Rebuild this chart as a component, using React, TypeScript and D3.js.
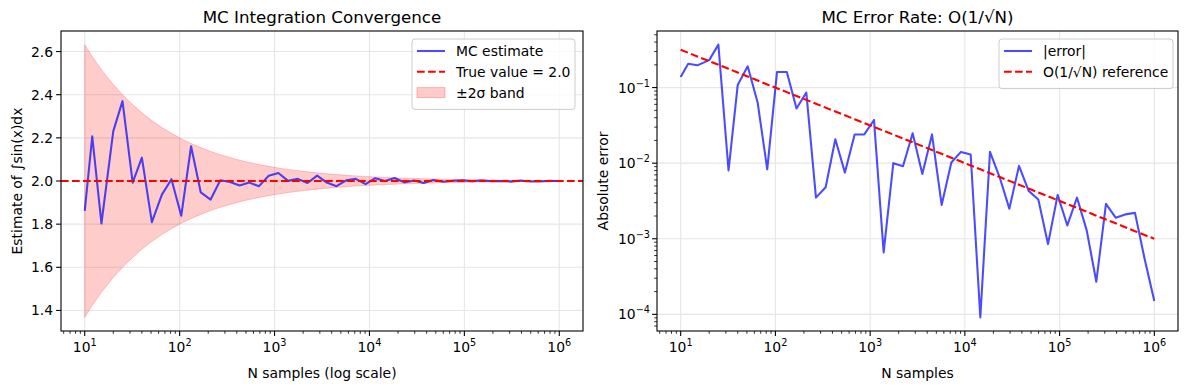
import React from 'react';
import * as d3 from 'd3';

// Sample sizes (log-spaced, 50 points) and MC estimates
const N_SAMPLES = [
  10, 12, 15, 20, 25, 32, 40, 51, 65, 82,
  104, 132, 167, 212, 268, 339, 429, 542, 686, 868,
  1098, 1389, 1757, 2222, 2811, 3556, 4498, 5689, 7196, 9102,
  11513, 14563, 18420, 23299, 29470, 37275, 47148, 59636, 75431, 95409,
  120679, 152641, 193069, 244205, 308884, 390693, 494171, 625055, 790604, 1000000,
];

const MC_ESTIMATE = [
  1.862, 2.207, 1.803, 2.231, 2.370, 1.992, 2.108, 1.809, 1.937, 2.0083,
  1.839, 2.161, 1.947, 1.914, 2.0035, 1.9952, 1.9793, 1.9925, 1.9761, 2.024,
  2.0373, 2.00066, 2.010, 1.9909, 2.0249, 1.9928, 1.976, 2.0028, 2.0102, 1.9859,
  2.013, 1.9999088, 2.0141, 1.9935, 2.0025, 1.9908, 2.0043, 1.9967, 2.00085, 2.0038,
  1.9985, 2.0035, 1.9987, 2.00027, 1.9971, 2.0019, 1.9979, 1.9978, 2.00054, 1.99985,
];

// ±2σ half-width of the shaded band
const BAND_HALF = [
  0.632, 0.577, 0.516, 0.447, 0.400, 0.354, 0.316, 0.280, 0.248, 0.221,
  0.196, 0.174, 0.155, 0.137, 0.122, 0.109, 0.0966, 0.0859, 0.0764, 0.0679,
  0.0604, 0.0537, 0.0477, 0.0424, 0.0377, 0.0335, 0.0298, 0.0265, 0.0236, 0.0210,
  0.0186, 0.0166, 0.0147, 0.0131, 0.0117, 0.0104, 0.0092, 0.0082, 0.0073, 0.0065,
  0.0058, 0.0051, 0.0046, 0.0040, 0.0036, 0.0032, 0.0028, 0.0025, 0.0022, 0.0020,
];

// O(1/sqrt(N)) reference line
const REF_ERROR = [
  0.316, 0.289, 0.258, 0.224, 0.200, 0.177, 0.158, 0.140, 0.124, 0.110,
  0.098, 0.087, 0.0774, 0.0687, 0.0611, 0.0543, 0.0483, 0.0430, 0.0382, 0.0339,
  0.0302, 0.0268, 0.0239, 0.0212, 0.0189, 0.0168, 0.0149, 0.0133, 0.0118, 0.0105,
  0.00932, 0.00829, 0.00737, 0.00655, 0.00583, 0.00518, 0.00461, 0.00409, 0.00364, 0.00324,
  0.00288, 0.00256, 0.00228, 0.00202, 0.0018, 0.0016, 0.00142, 0.00126, 0.00112, 0.001,
];

const TRUE_VALUE = 2.0;
const LEFT_Y_TICKS = [1.4, 1.6, 1.8, 2.0, 2.2, 2.4, 2.6];
const X_DECADES = [1, 2, 3, 4, 5, 6];
const Y_DECADES = [-4, -3, -2, -1];

const FONT = 'DejaVu Sans, sans-serif';
const FS = 13.9;
const BLUE = 'rgba(0,0,255,0.7)';
const GRID = '#e6e6e6';
const LW = 2.08;
const DASH = '7.7,3.3';
const TOP = 31;
const BOTTOM = 331;

function LogLabel({ x, y, exp, anchor }: { x: number; y: number; exp: number; anchor: string }) {
  const e = exp < 0 ? `\u2212${-exp}` : `${exp}`;
  return (
    <text x={x} y={y} textAnchor={anchor} fontSize={FS} fontFamily={FONT} fill="#000">
      <tspan>10</tspan>
      <tspan dy={-6} fontSize={9.7}>{e}</tspan>
    </text>
  );
}

function XLogAxis({ x }: { x: d3.ScaleLogarithmic<number, number> }) {
  const [d0, d1] = x.domain();
  const minors: number[] = [];
  for (let k = 0; k <= 6; k++) for (let m = 2; m <= 9; m++) {
    const v = m * Math.pow(10, k);
    if (v >= d0 && v <= d1) minors.push(v);
  }
  return (
    <g>
      {minors.map((v, i) => (
        <line key={'m' + i} x1={x(v)} x2={x(v)} y1={BOTTOM} y2={BOTTOM + 2.8} stroke="#000" strokeWidth={0.8} />
      ))}
      {X_DECADES.map(k => (
        <g key={k}>
          <line x1={x(10 ** k)} x2={x(10 ** k)} y1={BOTTOM} y2={BOTTOM + 4.9} stroke="#000" strokeWidth={1.1} />
          <LogLabel x={x(10 ** k)} y={BOTTOM + 21} exp={k} anchor="middle" />
        </g>
      ))}
    </g>
  );
}

function Legend({ x, y, w, items }: { x: number; y: number; w: number; items: { label: string; kind: string }[] }) {
  const rowH = 20.8;
  const h = items.length * rowH + 8;
  return (
    <g>
      <rect x={x} y={y} width={w} height={h} rx={3} fill="rgba(255,255,255,0.8)" stroke="#cccccc" strokeWidth={1} />
      {items.map((it, i) => {
        const cy = y + 12 + i * rowH;
        const hx = x + 5;
        return (
          <g key={i}>
            {it.kind === 'line' && <line x1={hx} x2={hx + 28} y1={cy} y2={cy} stroke={BLUE} strokeWidth={LW} />}
            {it.kind === 'dash' && <line x1={hx} x2={hx + 28} y1={cy} y2={cy} stroke="red" strokeWidth={LW} strokeDasharray={DASH} />}
            {it.kind === 'patch' && <rect x={hx} y={cy - 5} width={28} height={10} fill="rgba(255,0,0,0.2)" stroke="rgba(255,0,0,0.25)" />}
            <text x={hx + 39} y={cy + 5} fontSize={FS} fontFamily={FONT}>{it.label}</text>
          </g>
        );
      })}
    </g>
  );
}

function ConvergencePanel() {
  const L = 61, R = 583;
  const x = d3.scaleLog().domain([10 ** 0.75, 10 ** 6.25]).range([L, R]);
  const lo = d3.min(BAND_HALF.map(h => TRUE_VALUE - h))!;
  const hi = d3.max(BAND_HALF.map(h => TRUE_VALUE + h))!;
  const pad = (hi - lo) * 0.05;
  const y = d3.scaleLinear().domain([lo - pad, hi + pad]).range([BOTTOM, TOP]);

  const idx = N_SAMPLES.map((_, i) => i);
  const band = d3.area<number>()
    .x(i => x(N_SAMPLES[i]))
    .y0(i => y(TRUE_VALUE - BAND_HALF[i]))
    .y1(i => y(TRUE_VALUE + BAND_HALF[i]));
  const line = d3.line<number>().x(i => x(N_SAMPLES[i])).y(i => y(MC_ESTIMATE[i]));

  return (
    <g>
      <clipPath id="clipL"><rect x={L} y={TOP} width={R - L} height={BOTTOM - TOP} /></clipPath>
      {X_DECADES.map(k => (
        <line key={k} x1={x(10 ** k)} x2={x(10 ** k)} y1={TOP} y2={BOTTOM} stroke={GRID} strokeWidth={1.1} />
      ))}
      {LEFT_Y_TICKS.map(t => (
        <line key={t} x1={L} x2={R} y1={y(t)} y2={y(t)} stroke={GRID} strokeWidth={1.1} />
      ))}
      <g clipPath="url(#clipL)">
        <path d={band(idx)!} fill="rgba(255,0,0,0.2)" stroke="rgba(255,0,0,0.2)" strokeWidth={1} />
        <path d={line(idx)!} fill="none" stroke={BLUE} strokeWidth={LW} strokeLinejoin="round" />
        <line x1={L} x2={R} y1={y(TRUE_VALUE)} y2={y(TRUE_VALUE)} stroke="red" strokeWidth={LW} strokeDasharray={DASH} />
      </g>
      <rect x={L} y={TOP} width={R - L} height={BOTTOM - TOP} fill="none" stroke="#000" strokeWidth={1.1} />
      <XLogAxis x={x} />
      {LEFT_Y_TICKS.map(t => (
        <g key={t}>
          <line x1={L - 4.9} x2={L} y1={y(t)} y2={y(t)} stroke="#000" strokeWidth={1.1} />
          <text x={L - 8} y={y(t) + 5} textAnchor="end" fontSize={FS} fontFamily={FONT}>{t.toFixed(1)}</text>
        </g>
      ))}
      <text x={(L + R) / 2} y={23} textAnchor="middle" fontSize={16.7} fontFamily={FONT}>MC Integration Convergence</text>
      <text x={(L + R) / 2} y={378} textAnchor="middle" fontSize={FS} fontFamily={FONT}>N samples (log scale)</text>
      <text transform={`translate(22,${(TOP + BOTTOM) / 2}) rotate(-90)`} textAnchor="middle" fontSize={FS} fontFamily={FONT}>
        Estimate of ∫sin(x)dx
      </text>
      <Legend x={412} y={39} w={163} items={[
        { label: 'MC estimate', kind: 'line' },
        { label: 'True value = 2.0', kind: 'dash' },
        { label: '±2σ band', kind: 'patch' },
      ]} />
    </g>
  );
}

function ErrorPanel() {
  const L = 657, R = 1178;
  const x = d3.scaleLog().domain([10 ** 0.75, 10 ** 6.25]).range([L, R]);
  const errors = MC_ESTIMATE.map(v => Math.abs(v - TRUE_VALUE));
  const all = errors.concat(REF_ERROR);
  const lmin = Math.log10(d3.min(all)!);
  const lmax = Math.log10(d3.max(all)!);
  const pad = (lmax - lmin) * 0.05;
  const y = d3.scaleLog().domain([10 ** (lmin - pad), 10 ** (lmax + pad)]).range([BOTTOM, TOP]);
  const [yd0, yd1] = y.domain();

  const idx = N_SAMPLES.map((_, i) => i);
  const errLine = d3.line<number>().x(i => x(N_SAMPLES[i])).y(i => y(errors[i]));
  const refLine = d3.line<number>().x(i => x(N_SAMPLES[i])).y(i => y(REF_ERROR[i]));

  const yMinors: number[] = [];
  for (let k = -5; k <= 0; k++) for (let m = 2; m <= 9; m++) {
    const v = m * Math.pow(10, k);
    if (v >= yd0 && v <= yd1) yMinors.push(v);
  }

  return (
    <g>
      <clipPath id="clipR"><rect x={L} y={TOP} width={R - L} height={BOTTOM - TOP} /></clipPath>
      {X_DECADES.map(k => (
        <line key={k} x1={x(10 ** k)} x2={x(10 ** k)} y1={TOP} y2={BOTTOM} stroke={GRID} strokeWidth={1.1} />
      ))}
      {Y_DECADES.map(k => (
        <line key={k} x1={L} x2={R} y1={y(10 ** k)} y2={y(10 ** k)} stroke={GRID} strokeWidth={1.1} />
      ))}
      <g clipPath="url(#clipR)">
        <path d={errLine(idx)!} fill="none" stroke={BLUE} strokeWidth={LW} strokeLinejoin="round" />
        <path d={refLine(idx)!} fill="none" stroke="red" strokeWidth={LW} strokeDasharray={DASH} />
      </g>
      <rect x={L} y={TOP} width={R - L} height={BOTTOM - TOP} fill="none" stroke="#000" strokeWidth={1.1} />
      <XLogAxis x={x} />
      {yMinors.map((v, i) => (
        <line key={'ym' + i} x1={L - 2.8} x2={L} y1={y(v)} y2={y(v)} stroke="#000" strokeWidth={0.8} />
      ))}
      {Y_DECADES.map(k => (
        <g key={k}>
          <line x1={L - 4.9} x2={L} y1={y(10 ** k)} y2={y(10 ** k)} stroke="#000" strokeWidth={1.1} />
          <LogLabel x={L - 7} y={y(10 ** k) + 5} exp={k} anchor="end" />
        </g>
      ))}
      <text x={(L + R) / 2} y={23} textAnchor="middle" fontSize={16.7} fontFamily={FONT}>MC Error Rate: O(1/√N)</text>
      <text x={(L + R) / 2} y={378} textAnchor="middle" fontSize={FS} fontFamily={FONT}>N samples</text>
      <text transform={`translate(608,${(TOP + BOTTOM) / 2}) rotate(-90)`} textAnchor="middle" fontSize={FS} fontFamily={FONT}>
        Absolute error
      </text>
      <Legend x={999} y={39} w={174} items={[
        { label: '|error|', kind: 'line' },
        { label: 'O(1/√N) reference', kind: 'dash' },
      ]} />
    </g>
  );
}

export default function App() {
  return (
    <svg
      width={1189}
      height={390}
      style={{ position: 'absolute', left: 0, top: 0, background: '#fff' }}
    >
      <rect width={1189} height={390} fill="#fff" />
      <ConvergencePanel />
      <ErrorPanel />
    </svg>
  );
}
